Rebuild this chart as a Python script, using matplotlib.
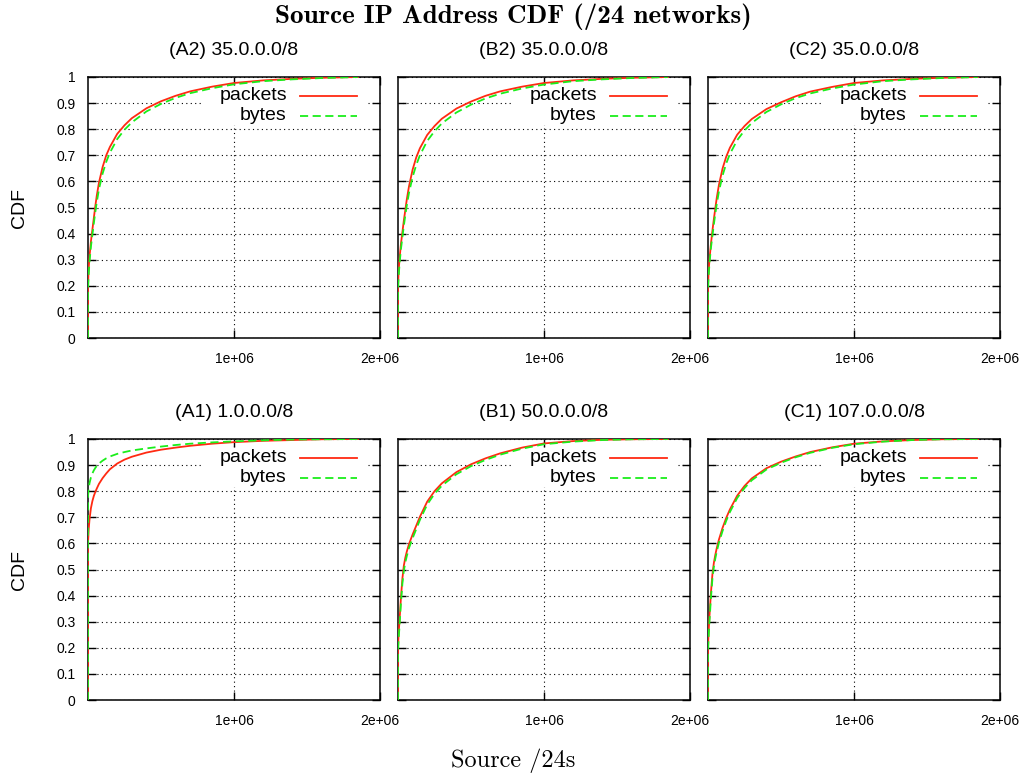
import matplotlib
matplotlib.use('Agg')
import matplotlib.pyplot as plt
from matplotlib.patches import Rectangle
from matplotlib.lines import Line2D

plt.rcParams['font.family'] = ['Liberation Sans', 'DejaVu Sans']

# rank of /24 network (shared x positions for every panel)
x_rank = [0, 0, 5e3, 1e4, 2e4, 3e4, 4e4, 5e4, 6e4, 7.5e4, 1e5, 1.25e5, 1.5e5, 2e5,
          2.5e5, 3e5, 4e5, 5e5, 6e5, 7e5, 8.5e5, 1e6, 1.2e6, 1.4e6, 1.6e6, 1.85e6]

# CDF values, one list per panel and series
a2_packets = [0, 0.20, 0.27, 0.31, 0.37, 0.415, 0.46, 0.505, 0.545, 0.595, 0.655, 0.700, 0.732,
              0.782, 0.815, 0.842, 0.880, 0.907, 0.928, 0.945, 0.963, 0.977, 0.987, 0.993, 0.997, 1.0]
a2_bytes   = [0, 0.18, 0.25, 0.29, 0.35, 0.395, 0.44, 0.482, 0.520, 0.570, 0.630, 0.675, 0.710,
              0.762, 0.798, 0.826, 0.868, 0.897, 0.920, 0.938, 0.957, 0.972, 0.984, 0.991, 0.996, 1.0]
b2_packets = [0, 0.20, 0.26, 0.30, 0.36, 0.405, 0.45, 0.490, 0.530, 0.580, 0.645, 0.692, 0.727,
              0.778, 0.812, 0.840, 0.879, 0.906, 0.928, 0.945, 0.963, 0.977, 0.987, 0.993, 0.997, 1.0]
b2_bytes   = [0, 0.18, 0.24, 0.28, 0.34, 0.385, 0.43, 0.470, 0.507, 0.555, 0.617, 0.663, 0.700,
              0.755, 0.792, 0.822, 0.864, 0.894, 0.918, 0.936, 0.956, 0.971, 0.984, 0.991, 0.996, 1.0]
c2_packets = [0, 0.20, 0.26, 0.30, 0.36, 0.41, 0.455, 0.497, 0.537, 0.587, 0.650, 0.695, 0.729,
              0.779, 0.812, 0.839, 0.877, 0.903, 0.926, 0.944, 0.962, 0.977, 0.987, 0.993, 0.997, 1.0]
c2_bytes   = [0, 0.18, 0.245, 0.285, 0.345, 0.39, 0.435, 0.476, 0.513, 0.562, 0.623, 0.669, 0.705,
              0.758, 0.795, 0.824, 0.866, 0.895, 0.919, 0.937, 0.956, 0.971, 0.984, 0.991, 0.996, 1.0]
a1_packets = [0, 0.60, 0.655, 0.69, 0.735, 0.762, 0.782, 0.797, 0.810, 0.828, 0.850, 0.868, 0.884,
              0.906, 0.921, 0.932, 0.948, 0.959, 0.967, 0.974, 0.982, 0.988, 0.993, 0.996, 0.999, 1.0]
a1_bytes   = [0, 0.78, 0.81, 0.83, 0.853, 0.868, 0.880, 0.889, 0.897, 0.906, 0.917, 0.926, 0.933,
              0.943, 0.950, 0.956, 0.964, 0.971, 0.977, 0.982, 0.987, 0.991, 0.995, 0.998, 0.999, 1.0]
b1_packets = [0, 0.20, 0.26, 0.30, 0.39, 0.465, 0.515, 0.545, 0.568, 0.597, 0.634, 0.668, 0.702,
              0.760, 0.800, 0.830, 0.873, 0.903, 0.926, 0.945, 0.967, 0.983, 0.992, 0.997, 0.999, 1.0]
b1_bytes   = [0, 0.18, 0.24, 0.28, 0.37, 0.445, 0.495, 0.527, 0.551, 0.582, 0.620, 0.655, 0.690,
              0.749, 0.790, 0.821, 0.865, 0.896, 0.920, 0.940, 0.963, 0.980, 0.990, 0.996, 0.999, 1.0]
c1_packets = [0, 0.20, 0.27, 0.32, 0.41, 0.48, 0.525, 0.556, 0.582, 0.615, 0.660, 0.698, 0.730,
              0.783, 0.820, 0.849, 0.888, 0.913, 0.933, 0.950, 0.968, 0.982, 0.991, 0.996, 0.999, 1.0]
c1_bytes   = [0, 0.18, 0.25, 0.30, 0.39, 0.462, 0.51, 0.542, 0.569, 0.603, 0.648, 0.687, 0.720,
              0.774, 0.812, 0.842, 0.883, 0.909, 0.930, 0.947, 0.966, 0.980, 0.990, 0.996, 0.999, 1.0]

titles = ['(A2) 35.0.0.0/8', '(B2) 35.0.0.0/8', '(C2) 35.0.0.0/8',
          '(A1) 1.0.0.0/8', '(B1) 50.0.0.0/8', '(C1) 107.0.0.0/8']
packets = [a2_packets, b2_packets, c2_packets, a1_packets, b1_packets, c1_packets]
bytes_ = [a2_bytes, b2_bytes, c2_bytes, a1_bytes, b1_bytes, c1_bytes]

y_ticks = [0, 0.1, 0.2, 0.3, 0.4, 0.5, 0.6, 0.7, 0.8, 0.9, 1]
y_labels = ['0', '0.1', '0.2', '0.3', '0.4', '0.5', '0.6', '0.7', '0.8', '0.9', '1']
x_ticks = [1e6, 2e6]
x_labels = ['1e+06', '2e+06']

red = '#ff2a12'
green = '#1aee1a'

fig = plt.figure(figsize=(10.26, 7.75), dpi=100)
lefts = [88 / 1026, 398 / 1026, 708 / 1026]
bottoms = [1 - 338 / 775, 1 - 700 / 775]
w = 292 / 1026
h = 261 / 775

for i in range(6):
    row, col = divmod(i, 3)
    ax = fig.add_axes([lefts[col], bottoms[row], w, h])
    ax.set_axisbelow(True)
    ax.plot(x_rank, packets[i], color=red, lw=1.3, zorder=3)
    ax.plot(x_rank, bytes_[i], color=green, lw=1.3, dashes=(4.5, 2.5), zorder=3)
    ax.set_xlim(0, 2e6)
    ax.set_ylim(0, 1)
    ax.set_xticks(x_ticks)
    ax.set_xticklabels(x_labels)
    ax.set_yticks(y_ticks)
    ax.set_yticklabels(y_labels if col == 0 else [])
    ax.tick_params(direction='in', top=True, right=True, length=6, width=1,
                   labelsize=10, pad=9)
    ax.tick_params(axis='x', pad=10)
    ax.grid(True, color='black', lw=0.8, linestyle=(0, (1, 3)))
    for s in ax.spines.values():
        s.set_linewidth(1.1)
    ax.set_title(titles[i], fontsize=14, pad=16)
    if col == 0:
        ax.set_ylabel('CDF', fontsize=14, labelpad=20)

    # gnuplot-style key: right aligned text, sample after it, opaque box
    ax.add_patch(Rectangle((0.39, 0.815), 0.57, 0.15, transform=ax.transAxes,
                           facecolor='white', edgecolor='none', zorder=1))
    ax.text(0.681, 0.929, 'packets', transform=ax.transAxes, ha='right',
            va='center', fontsize=14, zorder=4)
    ax.text(0.681, 0.851, 'bytes', transform=ax.transAxes, ha='right',
            va='center', fontsize=14, zorder=4)
    ax.add_line(Line2D([0.726, 0.92], [0.929, 0.929], transform=ax.transAxes,
                       color=red, lw=1.3, zorder=4))
    ax.add_line(Line2D([0.726, 0.92], [0.851, 0.851], transform=ax.transAxes,
                       color=green, lw=1.3, dashes=(4.5, 2.5), zorder=4))

fig.text(0.5, 0.978, 'Source IP Address CDF (/24 networks)', ha='center',
         va='center', fontsize=19.5, family='cmb10')
fig.text(0.5, 0.019, 'Source /24s', ha='center', va='center', fontsize=17.5,
         family='cmr10')

plt.savefig('out.png', dpi=100)
